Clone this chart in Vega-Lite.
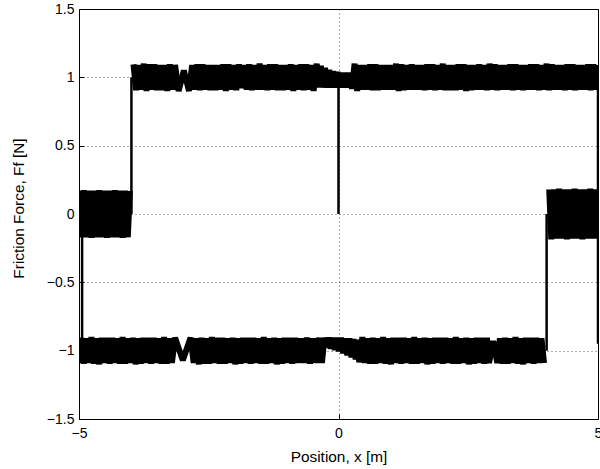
{
  "$schema": "https://vega.github.io/schema/vega-lite/v6.json",
  "width": 519,
  "height": 410,
  "autosize": {"type": "none"},
  "padding": {"left": 79, "top": 9, "right": 2, "bottom": 50},
  "background": "white",
  "config": {
    "view": {"stroke": "black", "strokeWidth": 1},
    "axis": {
      "labelFont": "Liberation Sans",
      "labelFontSize": 14,
      "labelColor": "black",
      "labelFlush": false,
      "titleFont": "Liberation Sans",
      "titleFontSize": 15.4,
      "titleFontWeight": "normal",
      "titleColor": "black",
      "domain": false,
      "ticks": true,
      "tickSize": -5,
      "tickColor": "black",
      "grid": true,
      "gridColor": "#000000",
      "gridDash": [1, 3],
      "gridOpacity": 0.65
    }
  },
  "datasets": {
    "top": [
      {"x":-3.95,"y":1.095},{"x":-3.9,"y":0.905},{"x":-3.85,"y":1.09},{"x":-3.8,"y":0.91},{"x":-3.75,"y":1.1},{"x":-3.7,"y":0.9},{"x":-3.65,"y":1.095},{"x":-3.6,"y":0.91},{"x":-3.55,"y":1.095},{"x":-3.5,"y":0.905},{"x":-3.45,"y":1.09},{"x":-3.4,"y":0.905},{"x":-3.35,"y":1.09},{"x":-3.3,"y":0.9},{"x":-3.25,"y":1.095},{"x":-3.2,"y":0.91},{"x":-3.15,"y":1.09},
      {"x":-3.08,"y":0.9},{"x":-2.98,"y":1.05},{"x":-2.88,"y":0.9},
      {"x":-2.82,"y":1.09},{"x":-2.77,"y":0.91},{"x":-2.72,"y":1.095},{"x":-2.67,"y":0.905},{"x":-2.62,"y":1.095},{"x":-2.57,"y":0.91},{"x":-2.52,"y":1.09},{"x":-2.47,"y":0.905},{"x":-2.42,"y":1.09},{"x":-2.37,"y":0.905},{"x":-2.32,"y":1.09},{"x":-2.27,"y":0.91},{"x":-2.22,"y":1.095},{"x":-2.17,"y":0.9},{"x":-2.12,"y":1.095},{"x":-2.07,"y":0.91},{"x":-2.02,"y":1.09},{"x":-1.97,"y":0.905},{"x":-1.92,"y":1.095},{"x":-1.87,"y":0.92},{"x":-1.82,"y":1.09},{"x":-1.77,"y":0.91},{"x":-1.72,"y":1.095},{"x":-1.67,"y":0.905},{"x":-1.62,"y":1.09},{"x":-1.57,"y":0.91},{"x":-1.52,"y":1.1},{"x":-1.47,"y":0.91},{"x":-1.42,"y":1.09},{"x":-1.37,"y":0.905},{"x":-1.32,"y":1.095},{"x":-1.27,"y":0.91},{"x":-1.22,"y":1.095},{"x":-1.17,"y":0.905},{"x":-1.12,"y":1.09},{"x":-1.07,"y":0.905},{"x":-1.02,"y":1.09},{"x":-0.97,"y":0.91},{"x":-0.92,"y":1.095},{"x":-0.87,"y":0.9},{"x":-0.82,"y":1.09},{"x":-0.77,"y":0.91},{"x":-0.72,"y":1.095},{"x":-0.67,"y":0.905},{"x":-0.62,"y":1.095},{"x":-0.57,"y":0.91},{"x":-0.52,"y":1.09},
      {"x":-0.48,"y":0.9},{"x":-0.42,"y":1.1},{"x":-0.38,"y":0.925},{"x":-0.34,"y":1.085},{"x":-0.3,"y":0.925},{"x":-0.26,"y":1.07},{"x":-0.22,"y":0.925},{"x":-0.18,"y":1.055},{"x":-0.14,"y":0.925},{"x":-0.1,"y":1.045},{"x":-0.06,"y":0.925},{"x":-0.02,"y":1.04},{"x":0.02,"y":0.925},{"x":0.06,"y":1.035},{"x":0.1,"y":0.925},{"x":0.14,"y":1.035},{"x":0.18,"y":0.925},{"x":0.22,"y":1.035},{"x":0.26,"y":0.915},{"x":0.31,"y":1.1},{"x":0.36,"y":0.9},
      {"x":0.41,"y":1.09},{"x":0.46,"y":0.91},{"x":0.51,"y":1.09},{"x":0.56,"y":0.91},{"x":0.61,"y":1.095},{"x":0.66,"y":0.905},{"x":0.71,"y":1.095},{"x":0.76,"y":0.905},{"x":0.81,"y":1.09},{"x":0.86,"y":0.91},{"x":0.91,"y":1.09},{"x":0.96,"y":0.91},{"x":1.01,"y":1.09},{"x":1.06,"y":0.91},{"x":1.11,"y":1.1},{"x":1.16,"y":0.9},{"x":1.21,"y":1.095},{"x":1.26,"y":0.905},{"x":1.31,"y":1.09},{"x":1.36,"y":0.91},{"x":1.41,"y":1.095},{"x":1.46,"y":0.91},{"x":1.51,"y":1.09},{"x":1.56,"y":0.91},{"x":1.61,"y":1.09},{"x":1.66,"y":0.905},{"x":1.71,"y":1.095},{"x":1.76,"y":0.91},{"x":1.81,"y":1.095},{"x":1.86,"y":0.905},{"x":1.91,"y":1.09},{"x":1.96,"y":0.91},{"x":2.01,"y":1.1},{"x":2.06,"y":0.905},{"x":2.11,"y":1.09},{"x":2.16,"y":0.905},{"x":2.21,"y":1.09},{"x":2.26,"y":0.905},{"x":2.31,"y":1.095},{"x":2.36,"y":0.91},{"x":2.41,"y":1.095},{"x":2.46,"y":0.9},{"x":2.51,"y":1.09},{"x":2.56,"y":0.905},{"x":2.61,"y":1.09},{"x":2.66,"y":0.91},{"x":2.71,"y":1.095},{"x":2.76,"y":0.91},{"x":2.81,"y":1.09},{"x":2.86,"y":0.905},{"x":2.91,"y":1.1},{"x":2.96,"y":0.91},{"x":3.01,"y":1.095},{"x":3.06,"y":0.905},{"x":3.11,"y":1.09},{"x":3.16,"y":0.91},{"x":3.21,"y":1.09},{"x":3.26,"y":0.91},{"x":3.31,"y":1.095},{"x":3.36,"y":0.905},{"x":3.41,"y":1.095},{"x":3.46,"y":0.91},{"x":3.51,"y":1.09},{"x":3.56,"y":0.905},{"x":3.61,"y":1.09},{"x":3.66,"y":0.91},{"x":3.71,"y":1.095},{"x":3.76,"y":0.91},{"x":3.81,"y":1.095},{"x":3.86,"y":0.905},{"x":3.91,"y":1.09},{"x":3.96,"y":0.91},{"x":4.01,"y":1.1},{"x":4.06,"y":0.905},{"x":4.11,"y":1.095},{"x":4.16,"y":0.91},{"x":4.21,"y":1.09},{"x":4.26,"y":0.91},{"x":4.31,"y":1.09},{"x":4.36,"y":0.905},{"x":4.41,"y":1.095},{"x":4.46,"y":0.91},{"x":4.51,"y":1.095},{"x":4.56,"y":0.905},{"x":4.61,"y":1.09},{"x":4.66,"y":0.91},{"x":4.71,"y":1.09},{"x":4.76,"y":0.91},{"x":4.81,"y":1.095},{"x":4.86,"y":0.905},{"x":4.91,"y":1.095},{"x":4.96,"y":0.91},{"x":5.01,"y":1.09}
    ],
    "bot": [
      {"x":-5.01,"y":-1.09},{"x":-4.96,"y":-0.905},{"x":-4.91,"y":-1.095},{"x":-4.86,"y":-0.91},{"x":-4.81,"y":-1.09},{"x":-4.76,"y":-0.9},{"x":-4.71,"y":-1.095},{"x":-4.66,"y":-0.91},{"x":-4.61,"y":-1.1},{"x":-4.56,"y":-0.905},{"x":-4.51,"y":-1.09},{"x":-4.46,"y":-0.905},{"x":-4.41,"y":-1.095},{"x":-4.36,"y":-0.905},{"x":-4.31,"y":-1.09},{"x":-4.26,"y":-0.91},{"x":-4.21,"y":-1.095},{"x":-4.16,"y":-0.9},{"x":-4.11,"y":-1.095},{"x":-4.06,"y":-0.91},{"x":-4.01,"y":-1.09},{"x":-3.96,"y":-0.905},{"x":-3.91,"y":-1.1},{"x":-3.86,"y":-0.91},{"x":-3.81,"y":-1.095},{"x":-3.76,"y":-0.905},{"x":-3.71,"y":-1.09},{"x":-3.66,"y":-0.905},{"x":-3.61,"y":-1.095},{"x":-3.56,"y":-0.905},{"x":-3.51,"y":-1.09},{"x":-3.46,"y":-0.91},{"x":-3.41,"y":-1.095},{"x":-3.36,"y":-0.9},{"x":-3.31,"y":-1.095},{"x":-3.26,"y":-0.91},{"x":-3.21,"y":-1.09},{"x":-3.15,"y":-0.905},
      {"x":-3.0,"y":-1.07},
      {"x":-2.85,"y":-0.905},{"x":-2.79,"y":-1.09},{"x":-2.74,"y":-0.91},{"x":-2.69,"y":-1.1},{"x":-2.64,"y":-0.905},{"x":-2.59,"y":-1.095},{"x":-2.54,"y":-0.91},{"x":-2.49,"y":-1.095},{"x":-2.44,"y":-0.9},{"x":-2.39,"y":-1.09},{"x":-2.34,"y":-0.905},{"x":-2.29,"y":-1.095},{"x":-2.24,"y":-0.905},{"x":-2.19,"y":-1.095},{"x":-2.14,"y":-0.91},{"x":-2.09,"y":-1.09},{"x":-2.04,"y":-0.905},{"x":-1.99,"y":-1.1},{"x":-1.94,"y":-0.91},{"x":-1.89,"y":-1.095},{"x":-1.84,"y":-0.905},{"x":-1.79,"y":-1.09},{"x":-1.74,"y":-0.905},{"x":-1.69,"y":-1.095},{"x":-1.64,"y":-0.905},{"x":-1.59,"y":-1.09},{"x":-1.54,"y":-0.91},{"x":-1.49,"y":-1.095},{"x":-1.44,"y":-0.9},{"x":-1.39,"y":-1.095},{"x":-1.34,"y":-0.91},{"x":-1.29,"y":-1.09},{"x":-1.24,"y":-0.905},{"x":-1.19,"y":-1.1},{"x":-1.14,"y":-0.91},{"x":-1.09,"y":-1.095},{"x":-1.04,"y":-0.905},{"x":-0.99,"y":-1.09},{"x":-0.94,"y":-0.905},{"x":-0.89,"y":-1.095},{"x":-0.84,"y":-0.905},{"x":-0.79,"y":-1.09},
      {"x":-0.73,"y":-0.91},{"x":-0.67,"y":-1.09},{"x":-0.61,"y":-0.905},{"x":-0.55,"y":-1.095},{"x":-0.49,"y":-0.91},{"x":-0.43,"y":-1.09},{"x":-0.37,"y":-0.905},{"x":-0.32,"y":-1.09},{"x":-0.27,"y":-0.905},
      {"x":-0.23,"y":-0.975},{"x":-0.19,"y":-0.905},{"x":-0.15,"y":-0.985},{"x":-0.11,"y":-0.905},{"x":-0.07,"y":-0.995},{"x":-0.03,"y":-0.905},{"x":0.01,"y":-1.005},{"x":0.05,"y":-0.905},{"x":0.09,"y":-1.02},{"x":0.13,"y":-0.91},{"x":0.17,"y":-1.035},{"x":0.21,"y":-0.91},{"x":0.25,"y":-1.05},{"x":0.29,"y":-0.915},{"x":0.33,"y":-1.065},{"x":0.37,"y":-0.92},{"x":0.4,"y":-1.085},
      {"x":0.46,"y":-0.9},{"x":0.51,"y":-1.09},{"x":0.56,"y":-0.91},{"x":0.61,"y":-1.095},{"x":0.66,"y":-0.905},{"x":0.71,"y":-1.095},{"x":0.76,"y":-0.91},{"x":0.81,"y":-1.09},{"x":0.86,"y":-0.9},{"x":0.91,"y":-1.095},{"x":0.96,"y":-0.91},{"x":1.01,"y":-1.1},{"x":1.06,"y":-0.905},{"x":1.11,"y":-1.09},{"x":1.16,"y":-0.905},{"x":1.21,"y":-1.095},{"x":1.26,"y":-0.905},{"x":1.31,"y":-1.09},{"x":1.36,"y":-0.91},{"x":1.41,"y":-1.095},{"x":1.46,"y":-0.9},{"x":1.51,"y":-1.095},{"x":1.56,"y":-0.91},{"x":1.61,"y":-1.09},{"x":1.66,"y":-0.905},{"x":1.71,"y":-1.1},{"x":1.76,"y":-0.91},{"x":1.81,"y":-1.095},{"x":1.86,"y":-0.905},{"x":1.91,"y":-1.09},{"x":1.96,"y":-0.905},{"x":2.01,"y":-1.095},{"x":2.06,"y":-0.905},{"x":2.11,"y":-1.09},{"x":2.16,"y":-0.91},{"x":2.21,"y":-1.095},{"x":2.26,"y":-0.9},{"x":2.31,"y":-1.095},{"x":2.36,"y":-0.91},{"x":2.41,"y":-1.09},{"x":2.46,"y":-0.905},{"x":2.51,"y":-1.1},{"x":2.56,"y":-0.91},{"x":2.61,"y":-1.095},{"x":2.66,"y":-0.905},{"x":2.71,"y":-1.09},{"x":2.76,"y":-0.905},{"x":2.81,"y":-1.095},{"x":2.86,"y":-0.905},{"x":2.9,"y":-1.09},
      {"x":2.98,"y":-0.93},
      {"x":3.06,"y":-1.09},{"x":3.11,"y":-0.91},{"x":3.16,"y":-1.095},{"x":3.21,"y":-0.905},{"x":3.26,"y":-1.095},{"x":3.31,"y":-0.91},{"x":3.36,"y":-1.09},{"x":3.41,"y":-0.9},{"x":3.46,"y":-1.095},{"x":3.51,"y":-0.91},{"x":3.56,"y":-1.1},{"x":3.61,"y":-0.905},{"x":3.66,"y":-1.09},{"x":3.71,"y":-0.905},{"x":3.76,"y":-1.095},{"x":3.81,"y":-0.905},{"x":3.86,"y":-1.09},{"x":3.91,"y":-0.91},{"x":3.96,"y":-1.09}
    ],
    "zl": [
      {"x":-5.01,"y":0.17},{"x":-4.96,"y":-0.17},{"x":-4.91,"y":0.175},{"x":-4.86,"y":-0.17},{"x":-4.81,"y":0.17},{"x":-4.76,"y":-0.175},{"x":-4.71,"y":0.17},{"x":-4.66,"y":-0.17},{"x":-4.61,"y":0.175},{"x":-4.56,"y":-0.17},{"x":-4.51,"y":0.17},{"x":-4.46,"y":-0.175},{"x":-4.41,"y":0.17},{"x":-4.36,"y":-0.17},{"x":-4.31,"y":0.175},{"x":-4.26,"y":-0.17},{"x":-4.21,"y":0.17},{"x":-4.16,"y":-0.175},{"x":-4.11,"y":0.17},{"x":-4.06,"y":-0.17},{"x":-4.02,"y":0.17}
    ],
    "zr": [
      {"x":4.06,"y":0.18},{"x":4.1,"y":-0.185},{"x":4.15,"y":0.18},{"x":4.2,"y":-0.18},{"x":4.25,"y":0.185},{"x":4.3,"y":-0.18},{"x":4.35,"y":0.18},{"x":4.4,"y":-0.185},{"x":4.45,"y":0.18},{"x":4.5,"y":-0.18},{"x":4.55,"y":0.185},{"x":4.6,"y":-0.18},{"x":4.65,"y":0.18},{"x":4.7,"y":-0.185},{"x":4.75,"y":0.18},{"x":4.8,"y":-0.18},{"x":4.85,"y":0.185},{"x":4.9,"y":-0.18},{"x":4.95,"y":0.18},{"x":5.0,"y":-0.18},{"x":5.05,"y":0.18}
    ],
    "thin": [
      {"s":1,"x":0,"y":0},{"s":1,"x":0,"y":0.95},
      {"s":2,"x":-3.99,"y":0},{"s":2,"x":-3.99,"y":1.0},
      {"s":3,"x":4.01,"y":-1.0},{"s":3,"x":4.01,"y":0},
      {"s":4,"x":-4.94,"y":-1.0},{"s":4,"x":-4.94,"y":0},
      {"s":5,"x":5.0,"y":-0.95},{"s":5,"x":5.0,"y":1.0}
    ]
  },
  "encoding": {
    "x": {
      "field": "x", "type": "quantitative",
      "scale": {"domain": [-5, 5], "nice": false, "zero": false},
      "axis": {"values": [-5, 0, 5], "format": "~g", "labelPadding": 12, "title": "Position, x [m]", "titleX": 259.5, "titleY": 42, "titleBaseline": "alphabetic", "titleAlign": "center",
        "encode": {"labels": {"update": {"dx": {"signal": "datum.value < 0 ? -5 : 0"}}}}}
    },
    "y": {
      "field": "y", "type": "quantitative",
      "scale": {"domain": [-1.5, 1.5], "nice": false, "zero": false},
      "axis": {"values": [-1.5, -1, -0.5, 0, 0.5, 1, 1.5], "format": "~g", "labelPadding": 10, "title": "Friction Force, Ff [N]", "titleX": -56, "titleY": 199, "titleAngle": -90, "titleBaseline": "alphabetic", "titleAlign": "center"}
    }
  },
  "layer": [
    {"data": {"name": "top"}, "mark": {"type": "line", "color": "black", "strokeWidth": 6, "strokeJoin": "bevel", "strokeCap": "butt", "clip": true}},
    {"data": {"name": "bot"}, "mark": {"type": "line", "color": "black", "strokeWidth": 6, "strokeJoin": "bevel", "strokeCap": "butt", "clip": true}},
    {"data": {"name": "zl"}, "mark": {"type": "line", "color": "black", "strokeWidth": 6, "strokeJoin": "bevel", "strokeCap": "butt", "clip": true}},
    {"data": {"name": "zr"}, "mark": {"type": "line", "color": "black", "strokeWidth": 6, "strokeJoin": "bevel", "strokeCap": "butt", "clip": true}},
    {"data": {"name": "thin"}, "mark": {"type": "line", "color": "black", "strokeWidth": 2.5, "clip": true}, "encoding": {"detail": {"field": "s", "type": "nominal"}}}
  ]
}
